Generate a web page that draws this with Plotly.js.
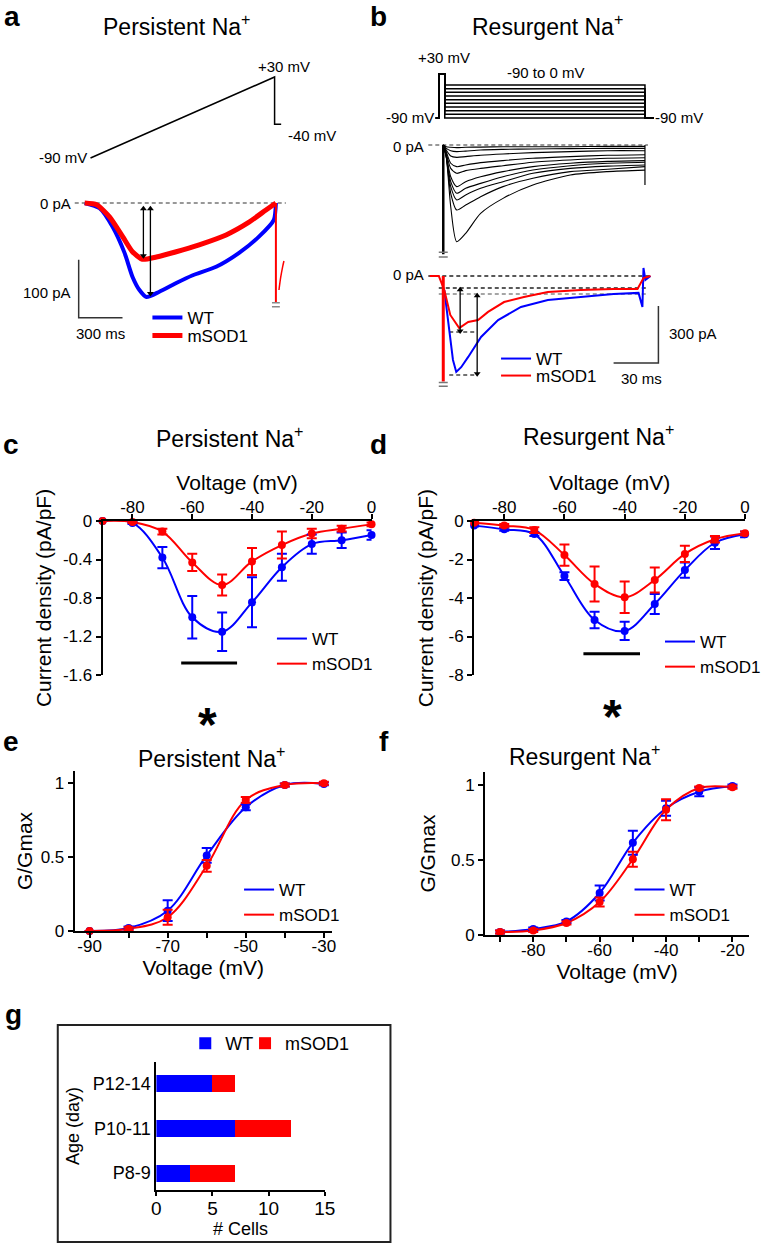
<!DOCTYPE html>
<html>
<head>
<meta charset="utf-8">
<script src="https://cdn.plot.ly/plotly-3.0.1.min.js"></script>
<style>
  body { margin: 0; background: #fff; }
  #fig { width: 766px; height: 1246px; }
</style>
</head>
<body>
<div id="fig"></div>
<script>
// ---------- a: persistent Na+, ramp protocol and currents ----------
const rampTime = [40, 1300, 1300, 1345];            // ms
const rampVolt = [-90, 30, -40, -40];               // mV
const aTimeWT = [0, 102, 191, 273, 327, 375, 423, 511, 627, 736, 900, 1057, 1193, 1295, 1309];
const aCurWT = [0, -9, -41, -86, -127, -150, -162, -153, -138, -125, -110, -86, -58, -29, 0];
const aTimeMut = [0, 82, 170, 260, 327, 395, 491, 627, 784, 968, 1125, 1241, 1309];
const aCurMut = [0, -3, -24, -58, -84, -97, -93, -84, -72, -55, -33, -12, 0];
const aZeroTime = [-68, 1377];
const aCapTime = [1309, 1309];
const aCapCur = [0, -172];
const aCapTickTime = [1282, 1336, null, 1282, 1336];
const aCapTickCur = [-172, -172, null, -179, -179];
const aTailTime = [1330, 1342, 1355, 1364];
const aTailCur = [-150, -128, -110, -100];
const aArrowTime = [402, 450];
const aArrowTop = [-10, -10];
const aArrowBottom = [-91, -156];
const aScaleTime = [-41, -41, 259];                  // 300 ms
const aScaleCur = [-98, -198, -198];                 // 100 pA

// ---------- b: resurgent Na+, step protocol and currents ----------
const protoTime = [-5, -3, -3, 1, 1, 135, 135, 141];
const stepLevels = [-90, -80, -70, -60, -50, -40, -30, -20, -10, 0];
const holdV = -90;
const preV = 30;
const famTime = [0, 2, 5, 9, 15, 25, 40, 60, 85, 110, 135];
const famCurrents = [
  [0, -61, -325, -509, -465, -360, -281, -211, -158, -140, -132],
  [0, -61, -254, -342, -316, -272, -219, -175, -140, -128, -114],
  [0, -61, -219, -289, -263, -228, -193, -149, -123, -111, -105],
  [0, -61, -193, -254, -228, -202, -167, -132, -109, -96, -91],
  [0, -53, -167, -219, -193, -167, -140, -114, -96, -86, -82],
  [0, -44, -123, -149, -135, -123, -109, -91, -79, -70, -67],
  [0, -35, -96, -114, -105, -93, -82, -70, -61, -54, -51],
  [0, -26, -58, -65, -61, -54, -47, -40, -35, -30, -30],
  [0, -18, -30, -35, -32, -26, -23, -21, -19, -18, -18],
  [0, -9, -12, -14, -12, -11, -9, -9, -9, -7, -7]
];
const famZeroTime = [-10, 137];
const famCapTime = [0, 0];
const famCapCur = [0, -575];
const famTickTime = [-3, 3, null, -3, 3];
const famTickCur = [-565, -565, null, -590, -590];
const famEndTime = [135, 135];
const famEndCur = [0, -210];

const bTimeWT = [0.7, 4, 6.5, 8.7, 12, 16.7, 25.3, 36.7, 52, 70, 92, 114, 130.7, 133.3, 134, 135.3, 138.7];
const bCurWT = [-74, -300, -442, -505, -480, -426, -321, -232, -163, -126, -111, -95, -89, -163, 42, -21, 0];
const bTimeMut = [-9, -3, 0.7, 4.7, 10.7, 16.7, 23.3, 30, 40.7, 54, 70, 92, 114, 130, 134, 138.7];
const bCurMut = [0, 0, -74, -205, -274, -242, -232, -189, -137, -111, -84, -74, -68, -68, -11, 0];
const bZeroTime = [-10, 139];
const bSteadyTime = [-3, 137];
const bSteadyMut = [-63, -63];
const bSteadyWT = [-95, -95];
const bPeakTime = [4, 22];
const bPeakMut = [-295, -295];
const bPeakWT = [-521, -521];
const bCapTime = [0, 0];
const bCapCur = [0, -555];
const bTickTime = [-3, 3, null, -3, 3];
const bTickCur = [-560, -560, null, -580, -580];
const bArrowTime = [11.3, 22.7];
const bArrowTop = [-72, -104];
const bArrowBottom = [-290, -515];
const bScaleTime = [114, 144, 144];                 // 30 ms
const bScaleCur = [-458, -458, -158];               // 300 pA

// ---------- c, d: current density vs voltage ----------
const ivVolt = [-90, -80, -70, -60, -50, -40, -30, -20, -10, 0];
const persWT = [0, -0.02, -0.38, -1.00, -1.15, -0.845, -0.48, -0.24, -0.20, -0.145];
const persWTErr = [0, 0.01, 0.11, 0.22, 0.2, 0.26, 0.14, 0.10, 0.08, 0.05];
const persMut = [0, -0.01, -0.11, -0.43, -0.665, -0.42, -0.25, -0.13, -0.08, -0.035];
const persMutErr = [0, 0.01, 0.03, 0.09, 0.11, 0.14, 0.14, 0.05, 0.03, 0.02];
const resWT = [-0.24, -0.43, -0.68, -2.86, -5.14, -5.71, -4.31, -2.55, -1.13, -0.69];
const resWTErr = [0.05, 0.08, 0.1, 0.2, 0.43, 0.47, 0.52, 0.4, 0.33, 0.15];
const resMut = [-0.09, -0.24, -0.47, -1.77, -3.27, -3.96, -3.06, -1.71, -0.95, -0.64];
const resMutErr = [0.05, 0.08, 0.15, 0.55, 0.91, 0.82, 0.65, 0.42, 0.17, 0.1];
const sigPersVolt = [-63.7, -45];
const sigPersLevel = [-1.475, -1.475];
const sigResVolt = [-53.7, -34.9];
const sigResLevel = [-6.9, -6.9];

// ---------- e, f: normalised conductance ----------
const gvPersVolt = [-90, -80, -70, -60, -50, -40, -30];
const gvPersWT = [0, 0.02, 0.137, 0.51, 0.835, 0.986, 0.993];
const gvPersWTErr = [0, 0.01, 0.07, 0.05, 0.02, 0.01, 0.01];
const gvPersMut = [0, 0.015, 0.093, 0.44, 0.885, 0.986, 0.998];
const gvPersMutErr = [0, 0.01, 0.05, 0.04, 0.02, 0.01, 0.01];
const gvResVolt = [-90, -80, -70, -60, -50, -40, -30, -20];
const gvResWT = [0.02, 0.04, 0.09, 0.28, 0.615, 0.845, 0.955, 0.993];
const gvResWTErr = [0.01, 0.01, 0.01, 0.05, 0.08, 0.05, 0.03, 0.01];
const gvResMut = [0.02, 0.03, 0.08, 0.22, 0.505, 0.835, 0.98, 0.985];
const gvResMutErr = [0.01, 0.01, 0.01, 0.03, 0.05, 0.07, 0.01, 0.01];

// ---------- g: cells per age group ----------
const ageGroups = ['P8-9', 'P10-11', 'P12-14'];
const cellsWT = [3, 7, 5];
const cellsMut = [4, 5, 2];

// ---------- tick labels ----------
const ivTickVals = [-80, -60, -40, -20, 0];
const ivTickText = ['-80', '-60', '-40', '-20', '0'];
const persTickVals = [0, -0.4, -0.8, -1.2, -1.6];
const persTickText = ['0', '-0.4', '-0.8', '-1.2', '-1.6'];
const resTickVals = [0, -2, -4, -6, -8];
const resTickText = ['0', '-2', '-4', '-6', '-8'];
const gvPersTickVals = [-90, -70, -50, -30];
const gvPersTickText = ['-90', '-70', '-50', '-30'];
const gvPersMinor = [-80, -60, -40];
const gvResTickVals = [-80, -60, -40, -20];
const gvResTickText = ['-80', '-60', '-40', '-20'];
const gvResMinor = [-90, -70, -50, -30];
const gTickVals = [0, 0.5, 1];
const gTickText = ['0', '0.5', '1'];
const cellTickVals = [0, 5, 10, 15];

// ---------- page geometry helpers ----------
const W = 766, H = 1246;
const FONT = 'Liberation Sans, Arial, Helvetica, sans-serif';
const BLUE = '#0000ff', RED = '#ff0000';
const fx = p => p / W;
const fy = p => 1 - p / H;
const domX = (a, b) => [a / W, b / W];
const domY = (top, bottom) => [1 - bottom / H, 1 - top / H];
// value range of a pixel span, from two reference pixels
const span = (p0, v0, p1, v1, lo, hi) => {
  const k = (v1 - v0) / (p1 - p0);
  return [v0 + (lo - p0) * k, v0 + (hi - p0) * k];
};

const traces = [];
const line = (x, y, xa, ya, color, width, extra) => {
  traces.push(Object.assign({
    type: 'scatter', mode: 'lines', x: x, y: y, xaxis: xa, yaxis: ya,
    line: {color: color, width: width}, showlegend: false, hoverinfo: 'skip'
  }, extra || {}));
};
const dashed = (x, y, xa, ya, color) =>
  line(x, y, xa, ya, color, 1.5, {line: {color: color, width: 1.5, dash: '4px,3px'}});
// double-headed measuring arrow
const arrow = (x, top, bottom, xa, ya) =>
  line([x, x], [top, bottom], xa, ya, '#000', 1.3,
    {mode: 'lines+markers', marker: {symbol: ['triangle-up', 'triangle-down'], size: 6, color: '#000'}});

// a
line(rampTime, rampVolt, 'x', 'y', '#000', 1.5);
dashed(aZeroTime, [0, 0], 'x', 'y2', '#777');
line(aTimeWT, aCurWT, 'x', 'y2', BLUE, 4,
  {line: {color: BLUE, width: 4, shape: 'spline', smoothing: 0.6}, name: 'WT', showlegend: true, legend: 'legend'});
line(aTimeMut, aCurMut, 'x', 'y2', RED, 5,
  {line: {color: RED, width: 5, shape: 'spline', smoothing: 0.6}, name: 'mSOD1', showlegend: true, legend: 'legend2'});
line(aCapTime, aCapCur, 'x', 'y2', RED, 2);
line(aCapTickTime, aCapTickCur, 'x', 'y2', '#888', 1.5);
line(aTailTime, aTailCur, 'x', 'y2', RED, 1.5, {line: {color: RED, width: 1.5, shape: 'spline'}});
line(aScaleTime, aScaleCur, 'x', 'y2', '#333', 1.5);
aArrowTime.forEach((t, i) => arrow(t, aArrowTop[i], aArrowBottom[i], 'x', 'y2'));

// b
stepLevels.forEach(v => {
  line(protoTime, [holdV, holdV, preV, preV, v, v, holdV, holdV], 'x2', 'y3', '#000', 1.5);
});
dashed(famZeroTime, [0, 0], 'x2', 'y4', '#777');
famCurrents.forEach(c => {
  line(famTime, c, 'x2', 'y4', '#000', 1.1, {line: {color: '#000', width: 1.1, shape: 'spline', smoothing: 0.7}});
});
line(famCapTime, famCapCur, 'x2', 'y4', '#000', 2.5);
line(famTickTime, famTickCur, 'x2', 'y4', '#777', 1.5);
line(famEndTime, famEndCur, 'x2', 'y4', '#000', 1.2);
dashed(bZeroTime, [0, 0], 'x2', 'y5', '#222');
dashed(bSteadyTime, bSteadyMut, 'x2', 'y5', '#222');
dashed(bSteadyTime, bSteadyWT, 'x2', 'y5', '#888');
dashed(bPeakTime, bPeakMut, 'x2', 'y5', '#444');
dashed(bPeakTime, bPeakWT, 'x2', 'y5', '#444');
line(bTimeWT, bCurWT, 'x2', 'y5', BLUE, 2, {name: 'WT', showlegend: true, legend: 'legend3'});
line(bTimeMut, bCurMut, 'x2', 'y5', RED, 2, {name: 'mSOD1', showlegend: true, legend: 'legend4'});
line(bCapTime, bCapCur, 'x2', 'y5', RED, 3);
line(bTickTime, bTickCur, 'x2', 'y5', '#777', 1.5);
line(bScaleTime, bScaleCur, 'x2', 'y5', '#333', 1.5);
bArrowTime.forEach((t, i) => arrow(t, bArrowTop[i], bArrowBottom[i], 'x2', 'y5'));

// c-f: fitted curves + mean ± SEM
const fitPanel = (xa, ya, v, wt, wtErr, mut, mutErr, legendId) => {
  [[wt, BLUE, 'WT'], [mut, RED, 'mSOD1']].forEach(s => {
    line(v, s[0], xa, ya, s[1], 2,
      {line: {color: s[1], width: 2, shape: 'spline', smoothing: 1}, name: s[2], showlegend: true, legend: legendId, cliponaxis: false});
  });
  [[wt, wtErr, BLUE], [mut, mutErr, RED]].forEach(s => {
    traces.push({
      type: 'scatter', mode: 'markers', x: v, y: s[0], xaxis: xa, yaxis: ya,
      marker: {color: s[2], size: 8},
      error_y: {type: 'data', array: s[1], visible: true, color: s[2], thickness: 2, width: 5},
      showlegend: false, hoverinfo: 'skip', cliponaxis: false
    });
  });
};
fitPanel('x3', 'y6', ivVolt, persWT, persWTErr, persMut, persMutErr, 'legend5');
line(sigPersVolt, sigPersLevel, 'x3', 'y6', '#000', 3);
fitPanel('x4', 'y7', ivVolt, resWT, resWTErr, resMut, resMutErr, 'legend6');
line(sigResVolt, sigResLevel, 'x4', 'y7', '#000', 3);
fitPanel('x5', 'y8', gvPersVolt, gvPersWT, gvPersWTErr, gvPersMut, gvPersMutErr, 'legend7');
fitPanel('x6', 'y9', gvResVolt, gvResWT, gvResWTErr, gvResMut, gvResMutErr, 'legend8');

// g
traces.push({type: 'bar', orientation: 'h', x: cellsWT, y: ageGroups, xaxis: 'x7', yaxis: 'y10',
  marker: {color: BLUE}, name: 'WT', legend: 'legend9', hoverinfo: 'skip'});
traces.push({type: 'bar', orientation: 'h', x: cellsMut, y: ageGroups, xaxis: 'x7', yaxis: 'y10',
  marker: {color: RED}, name: 'mSOD1', legend: 'legend10', hoverinfo: 'skip'});

// ---------- axes ----------
const hidden = (domain, range, anchor) => ({domain: domain, range: range, anchor: anchor, visible: false, fixedrange: true});
const axStyle = {
  showline: true, linecolor: '#000', linewidth: 2, ticks: 'outside', ticklen: 5, tickwidth: 2,
  tickcolor: '#000', showgrid: false, zeroline: false, fixedrange: true,
  tickfont: {family: FONT, size: 17, color: '#000'}
};
const minorTicks = vals => ({tickvals: vals, ticks: 'outside', ticklen: 5, tickwidth: 2, tickcolor: '#000', showgrid: false});
const axTitle = (text, size, standoff) => ({text: text, font: {family: FONT, size: size, color: '#000'}, standoff: standoff});

const leg = (left, top, size) => ({
  x: fx(left), y: fy(top), xanchor: 'left', yanchor: 'top', bgcolor: 'rgba(0,0,0,0)',
  borderwidth: 0, itemwidth: 30, tracegroupgap: 0, orientation: 'v',
  font: {family: FONT, size: size || 17, color: '#000'}
});

const label = (text, x, y, size, xanchor) => ({
  text: text, x: fx(x), y: fy(y), xref: 'paper', yref: 'paper', xanchor: xanchor || 'center',
  yanchor: 'middle', showarrow: false, font: {family: FONT, size: size, color: '#000'}
});

const TITLE = 23, LETTER = 28, SMALL = 15;
const annotations = [
  label('<b>a</b>', 12, 17, LETTER),
  label('Persistent Na<sup>+</sup>', 177, 25, TITLE),
  label('+30 mV', 285, 67, SMALL),
  label('-40 mV', 287, 136, SMALL, 'left'),
  label('-90 mV', 89, 157, SMALL, 'right'),
  label('0 pA', 73, 203, SMALL, 'right'),
  label('100 pA', 73, 292, SMALL, 'right'),
  label('300 ms', 101, 333, SMALL),
  label('<b>b</b>', 380, 17, LETTER),
  label('Resurgent Na<sup>+</sup>', 550, 25, TITLE),
  label('+30 mV', 446, 57, SMALL),
  label('-90 to 0 mV', 548, 73, SMALL),
  label('-90 mV', 438, 118, SMALL, 'right'),
  label('-90 mV', 656, 118, SMALL, 'left'),
  label('0 pA', 428, 146, SMALL, 'right'),
  label('0 pA', 428, 275, SMALL, 'right'),
  label('300 pA', 670, 333, SMALL, 'left'),
  label('30 ms', 644, 378, SMALL),
  label('<b>c</b>', 11, 444, LETTER),
  label('Persistent Na<sup>+</sup>', 230, 437, TITLE),
  label('<b>d</b>', 380, 444, LETTER),
  label('Resurgent Na<sup>+</sup>', 601, 435, TITLE),
  label('<b>e</b>', 11, 741, LETTER),
  label('Persistent Na<sup>+</sup>', 212, 757, TITLE),
  label('<b>f</b>', 386, 741, LETTER),
  label('Resurgent Na<sup>+</sup>', 587, 755, TITLE),
  label('<b>g</b>', 14, 1014, LETTER),
  Object.assign(label('<b>*</b>', 0, 724, 48), {xref: 'x3', x: -55}),
  Object.assign(label('<b>*</b>', 0, 716, 48), {xref: 'x4', x: -44})
];

const layout = {
  width: W, height: H, margin: {l: 0, r: 0, t: 0, b: 0},
  paper_bgcolor: '#fff', plot_bgcolor: 'rgba(0,0,0,0)',
  font: {family: FONT, size: SMALL, color: '#000'},
  hovermode: false, showlegend: true,
  barmode: 'stack', bargap: 0.62,

  xaxis: hidden(domX(56, 305), span(85, 0, 129, 300, 56, 305), 'y'),
  yaxis: hidden(domY(60, 170), span(158, -90, 77, 30, 170, 60), 'x'),
  yaxis2: hidden(domY(190, 345), span(203, 0, 261, -100, 345, 190), 'x'),

  xaxis2: hidden(domX(385, 708), span(445, 0, 490, 30, 385, 708), 'y3'),
  yaxis3: hidden(domY(55, 125), span(118, -90, 85, 0, 125, 55), 'x2'),
  yaxis4: hidden(domY(133, 262), span(145, 0, 202, -300, 262, 133), 'x2'),
  yaxis5: hidden(domY(265, 392), span(276, 0, 333, -300, 392, 265), 'x2'),

  xaxis3: Object.assign({}, axStyle, {domain: domX(103, 373), range: [-90, 0], anchor: 'y6', side: 'top',
    ticklabelstandoff: -6, tickvals: ivTickVals, ticktext: ivTickText, title: axTitle('Voltage (mV)', 21, 2)}),
  yaxis6: Object.assign({}, axStyle, {domain: domY(521, 675), range: [-1.6, 0], anchor: 'x3',
    tickvals: persTickVals, ticktext: persTickText, title: axTitle('Current density (pA/pF)', 21, 6)}),

  xaxis4: Object.assign({}, axStyle, {domain: domX(476, 748), range: [-90, 0], anchor: 'y7', side: 'top',
    ticklabelstandoff: -6, tickvals: ivTickVals, ticktext: ivTickText, title: axTitle('Voltage (mV)', 21, 2)}),
  yaxis7: Object.assign({}, axStyle, {domain: domY(521, 675), range: [-8, 0], anchor: 'x4',
    tickvals: resTickVals, ticktext: resTickText, title: axTitle('Current density (pA/pF)', 21, 9)}),

  xaxis5: Object.assign({}, axStyle, {domain: domX(75, 333), range: [-93.8, -28], anchor: 'y8',
    ticklabelstandoff: -6, tickvals: gvPersTickVals, ticktext: gvPersTickText, minor: minorTicks(gvPersMinor),
    title: axTitle('Voltage (mV)', 21, 4)}),
  yaxis8: Object.assign({}, axStyle, {domain: domY(771, 931), range: [0, 1.08], anchor: 'x5',
    tickvals: gTickVals, ticktext: gTickText, title: axTitle('G/Gmax', 21, 2)}),

  xaxis6: Object.assign({}, axStyle, {domain: domX(487, 752), range: [-94.5, -15], anchor: 'y9',
    ticklabelstandoff: -6, tickvals: gvResTickVals, ticktext: gvResTickText, minor: minorTicks(gvResMinor),
    title: axTitle('Voltage (mV)', 21, 4)}),
  yaxis9: Object.assign({}, axStyle, {domain: domY(772, 935), range: [0, 1.087], anchor: 'x6',
    tickvals: gTickVals, ticktext: gTickText, title: axTitle('G/Gmax', 21, 10)}),

  xaxis7: Object.assign({}, axStyle, {domain: domX(157, 326), range: [0, 15], anchor: 'y10',
    ticklen: 4, ticklabelstandoff: -4, tickvals: cellTickVals,
    tickfont: {family: FONT, size: 19, color: '#000'}, title: axTitle('# Cells', 18, 0)}),
  yaxis10: Object.assign({}, axStyle, {domain: domY(1062, 1190), range: [-0.38, 2.49], anchor: 'x7',
    type: 'category', categoryorder: 'array', categoryarray: ageGroups, ticks: '',
    tickfont: {family: FONT, size: 18, color: '#000'}, title: axTitle('Age (day)', 18, 8)}),

  legend: leg(148, 300),
  legend2: leg(148, 318),
  legend3: leg(498, 341),
  legend4: leg(498, 358),
  legend5: leg(273, 621),
  legend6: leg(663, 624),
  legend7: leg(240, 872),
  legend8: leg(632, 872),
  legend9: leg(186, 1025, 18),
  legend10: leg(246, 1025, 18),

  shapes: [{type: 'rect', xref: 'paper', yref: 'paper', x0: fx(58), x1: fx(392), y0: fy(1242), y1: fy(1025),
    line: {color: '#222', width: 2}}],
  annotations: annotations
};

Plotly.newPlot('fig', traces, layout, {staticPlot: true});
</script>
</body>
</html>
